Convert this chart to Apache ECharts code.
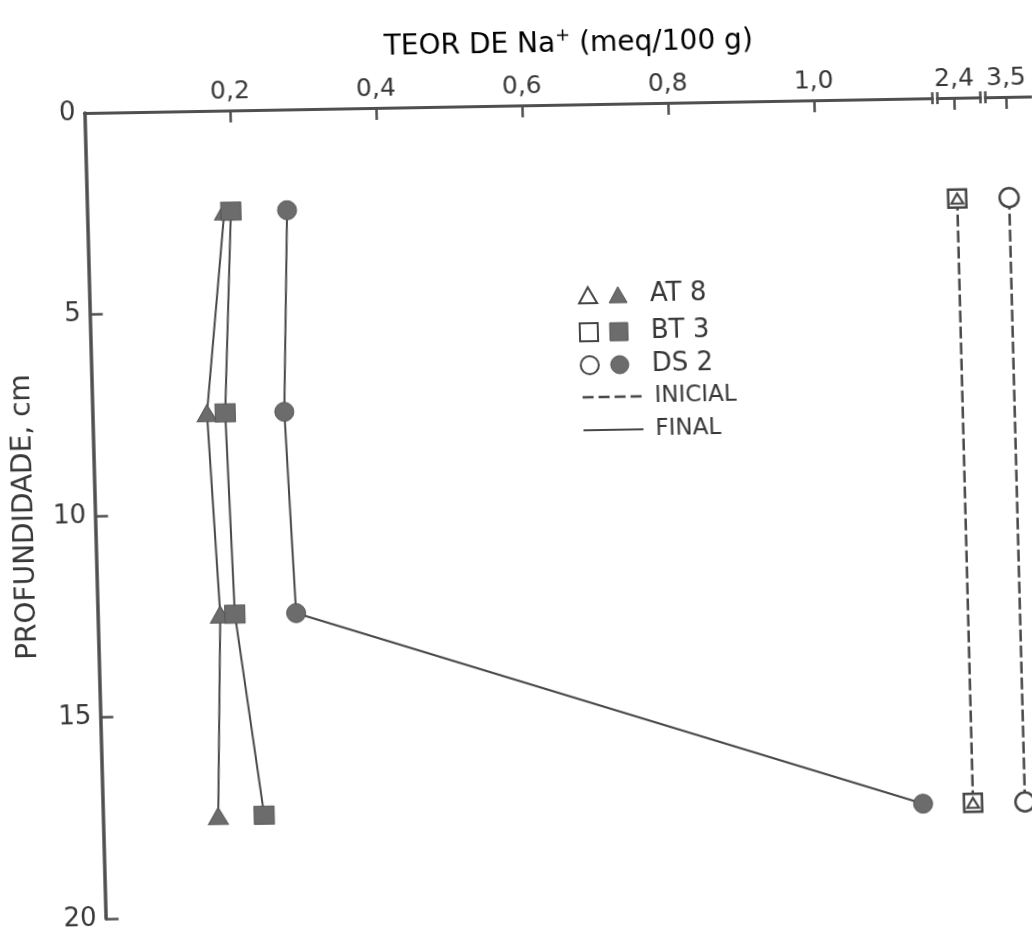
<!DOCTYPE html>
<html><head><meta charset="utf-8">
<script src="https://cdn.jsdelivr.net/npm/echarts@6/dist/echarts.min.js"></script>
<style>
html,body{margin:0;padding:0;background:#fff;overflow:hidden;}
#wrap{width:1032px;height:933px;position:relative;overflow:hidden;background:#fff;}
#chart{width:1032px;height:933px;position:absolute;left:0;top:0;
  transform-origin:84.5px 113px;
  transform:matrix(0.99985,-0.01745,0.02618,0.99966,0,0);}
</style></head>
<body><div id="wrap"><div id="chart"></div></div>
<script>
// ---- data ----
const depths = [2.5, 7.5, 12.5, 17.5];          // cm
const at8Final = [0.188, 0.157, 0.168, 0.158];  // meq/100 g
const bt3Final = [0.197, 0.182, 0.188, 0.221];
const ds2Final = [0.274, 0.263, 0.272, 1.124];
const initialDepths = [2.5, 17.5];
const at8Initial = [2.4, 2.4];
const bt3Initial = [2.4, 2.4];
const ds2Initial = [3.5, 3.5];
const xTicksMain = [0.2, 0.4, 0.6, 0.8, 1.0];
const xTicksBreak1 = [2.4];
const xTicksBreak2 = [3.5];
const yLabels = [0, 5, 10, 15, 20];
const yTicks = [5, 10, 15, 20];

// ---- styling ----
const FONT = 'DejaVu Sans';
const TXT = '#383838';
const AX = '#4f4f4f';
const LINE = '#474747';
const FILL = '#6c6c6c';

function pairs(xs, ys) { return xs.map((v, i) => [v, ys[i]]); }
function fmt(v) { return v.toFixed(1).replace('.', ','); }

const chart = echarts.init(document.getElementById('chart'), null, {renderer: 'canvas'});

function xAxisDef(gridIndex, min, max, ticks, symbols) {
  return {
    type: 'value', gridIndex: gridIndex, position: 'top', min: min, max: max,
    axisLine: {show: true, onZero: false, lineStyle: {color: AX, width: 3},
      symbol: symbols, symbolSize: [12, 2.5]},
    axisTick: {show: true, inside: true, length: 12, customValues: ticks,
      lineStyle: {color: AX, width: 2.5}},
    axisLabel: {show: true, customValues: ticks, formatter: fmt, fontSize: 25,
      fontFamily: FONT, color: TXT, margin: 6},
    splitLine: {show: false}
  };
}
function yAxisDef(gridIndex, show) {
  return {
    type: 'value', gridIndex: gridIndex, inverse: true, min: 0, max: 20, show: show,
    axisLine: {show: true, onZero: false, lineStyle: {color: AX, width: 3.5}},
    axisTick: {show: true, inside: true, length: 13, customValues: yTicks,
      lineStyle: {color: AX, width: 2.5}},
    axisLabel: {show: true, customValues: yLabels, fontSize: 26, fontFamily: FONT,
      color: TXT, margin: 9},
    splitLine: {show: false}
  };
}

const solid = {color: LINE, width: 2};
const dashed = {color: LINE, width: 2.5, type: [12, 4]};
const filled = {color: FILL, borderColor: '#555', borderWidth: 1};
const open = {color: '#ffffff', borderColor: '#444', borderWidth: 2.5};

const legendRows = [
  {y: 304, shape: 'triangle', label: 'AT 8'},
  {y: 341, shape: 'square', label: 'BT 3'},
  {y: 374, shape: 'circle', label: 'DS 2'}
];
function legendMarker(shape, x, y, isFilled) {
  const style = isFilled ? {fill: FILL, stroke: '#555', lineWidth: 1}
                         : {fill: '#fff', stroke: '#444', lineWidth: 2};
  if (shape === 'triangle') return {type: 'polygon', shape: {points: [[x - 9, y + 8], [x, y - 8], [x + 9, y + 8]]}, style: style};
  if (shape === 'square') return {type: 'rect', shape: {x: x - 9, y: y - 9, width: 18, height: 18}, style: style};
  return {type: 'circle', shape: {cx: x, cy: y, r: 9}, style: style};
}
const graphics = [];
legendRows.forEach(r => {
  graphics.push(legendMarker(r.shape, 583, r.y, false));
  graphics.push(legendMarker(r.shape, 613, r.y, true));
  graphics.push({type: 'text', x: 645, y: r.y, style: {text: r.label, font: '26px "' + FONT + '"',
    fill: TXT, align: 'left', verticalAlign: 'middle'}});
});
graphics.push({type: 'line', shape: {x1: 575, y1: 406, x2: 635, y2: 406}, style: {stroke: LINE, lineWidth: 2.5, lineDash: [11, 5]}});
graphics.push({type: 'text', x: 647, y: 406, style: {text: 'INICIAL', font: '23px "' + FONT + '"', fill: TXT, align: 'left', verticalAlign: 'middle'}});
graphics.push({type: 'line', shape: {x1: 575, y1: 439, x2: 635, y2: 439}, style: {stroke: LINE, lineWidth: 2}});
graphics.push({type: 'text', x: 647, y: 439, style: {text: 'FINAL', font: '23px "' + FONT + '"', fill: TXT, align: 'left', verticalAlign: 'middle'}});
// axis titles
graphics.push({type: 'text', x: 570, y: 51, style: {
  text: '{a|TEOR DE Na}{s|+}{a| (meq/100 g)}', align: 'center', verticalAlign: 'middle',
  rich: {a: {fontSize: 28, fontFamily: FONT, color: TXT, lineHeight: 32, verticalAlign: 'bottom'},
         s: {fontSize: 18, fontFamily: FONT, color: TXT, lineHeight: 18, verticalAlign: 'top'}}}});
graphics.push({type: 'text', x: 15, y: 516, rotation: Math.PI / 2, style: {
  text: 'PROFUNDIDADE, cm', font: '28px "' + FONT + '"', fill: TXT, align: 'center', verticalAlign: 'middle'}});

const option = {
  backgroundColor: '#ffffff',
  animation: false,
  grid: [
    {left: 84.5, top: 113, width: 848, height: 806},
    {left: 937.5, top: 113, width: 43, height: 806},
    {left: 985.5, top: 113, width: 46.5, height: 806}
  ],
  xAxis: [
    xAxisDef(0, 0, 1.162, xTicksMain, ['none', 'rect']),
    xAxisDef(1, 2.36, 2.46, xTicksBreak1, ['rect', 'rect']),
    xAxisDef(2, 3.45, 3.56, xTicksBreak2, ['rect', 'none'])
  ],
  yAxis: [yAxisDef(0, true), yAxisDef(1, false), yAxisDef(2, false)],
  graphic: graphics,
  series: [
    {name: 'AT 8 final', type: 'line', xAxisIndex: 0, yAxisIndex: 0, data: pairs(at8Final, depths),
      symbol: 'triangle', symbolSize: [20, 17], showSymbol: true, lineStyle: solid, itemStyle: filled, z: 3},
    {name: 'BT 3 final', type: 'line', xAxisIndex: 0, yAxisIndex: 0, data: pairs(bt3Final, depths),
      symbol: 'rect', symbolSize: [20, 18], showSymbol: true, lineStyle: solid, itemStyle: filled, z: 4},
    {name: 'DS 2 final', type: 'line', xAxisIndex: 0, yAxisIndex: 0, data: pairs(ds2Final, depths),
      symbol: 'circle', symbolSize: 19, showSymbol: true, lineStyle: solid, itemStyle: filled, z: 3},
    {name: 'BT 3 inicial', type: 'line', xAxisIndex: 1, yAxisIndex: 1, data: pairs(bt3Initial, initialDepths),
      symbol: 'rect', symbolSize: 18, showSymbol: true, lineStyle: dashed, itemStyle: open, z: 4},
    {name: 'AT 8 inicial', type: 'line', xAxisIndex: 1, yAxisIndex: 1, data: pairs(at8Initial, initialDepths),
      symbol: 'triangle', symbolSize: [12, 10], showSymbol: true, lineStyle: {opacity: 0}, itemStyle: {color: '#fff', borderColor: '#444', borderWidth: 2}, z: 5},
    {name: 'DS 2 inicial', type: 'line', xAxisIndex: 2, yAxisIndex: 2, data: pairs(ds2Initial, initialDepths),
      symbol: 'circle', symbolSize: 19, showSymbol: true, lineStyle: dashed, itemStyle: open, z: 4}
  ]
};
chart.setOption(option);
</script>
</body></html>
